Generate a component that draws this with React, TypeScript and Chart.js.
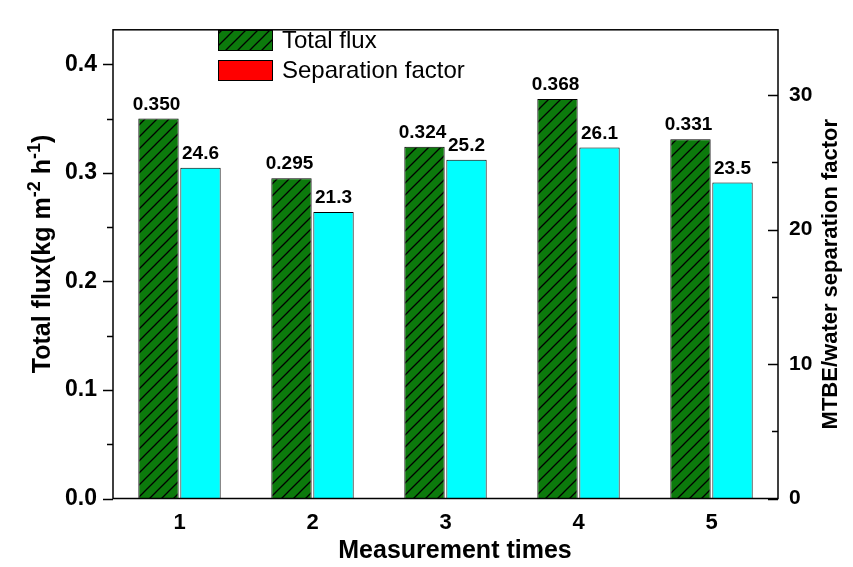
import React, { useEffect, useRef } from "react";
import { Chart, registerables } from "chart.js";
Chart.register(...registerables);

const categories = ["1", "2", "3", "4", "5"];
const totalFlux = [0.35, 0.295, 0.324, 0.368, 0.331];
const separationFactor = [24.6, 21.3, 25.2, 26.1, 23.5];
const fluxLabels = ["0.350", "0.295", "0.324", "0.368", "0.331"];
const sepLabels = ["24.6", "21.3", "25.2", "26.1", "23.5"];
const leftTicks = [0, 0.1, 0.2, 0.3, 0.4];
const leftMinorTicks = [0.05, 0.15, 0.25, 0.35];
const rightTicks = [0, 10, 20, 30];
const rightMinorTicks = [5, 15, 25];
const legendLabels = ["Total flux", "Separation factor"];
const xTitle = "Measurement times";
const rightTitle = "MTBE/water separation factor";

const FONT = "'Liberation Sans', Arial, Helvetica, sans-serif";
const GREEN = "#0c7a0c";
const CYAN = "#00ffff";

function makeHatch(ctx: CanvasRenderingContext2D, bg: string) {
  const s = 12;
  const c = document.createElement("canvas");
  c.width = s;
  c.height = s;
  const g = c.getContext("2d")!;
  g.fillStyle = bg;
  g.fillRect(0, 0, s, s);
  g.strokeStyle = "#000";
  g.lineWidth = 1.3;
  g.beginPath();
  g.moveTo(0, s);
  g.lineTo(s, 0);
  g.moveTo(-s / 2, s / 2);
  g.lineTo(s / 2, -s / 2);
  g.moveTo(s / 2, s * 1.5);
  g.lineTo(s * 1.5, s / 2);
  g.stroke();
  return ctx.createPattern(c, "repeat");
}

export default function App() {
  const ref = useRef<HTMLCanvasElement>(null);
  useEffect(() => {
    document.body.style.margin = "0";
    const canvas = ref.current!;
    const ctx0 = canvas.getContext("2d")!;
    const hatch = makeHatch(ctx0, GREEN);

    const decor = {
      id: "decor",
      afterDraw(chart: any) {
        const ctx = chart.ctx;
        const a = chart.chartArea;
        const yL = chart.scales.y;
        const yR = chart.scales.y1;
        ctx.save();
        // frame
        ctx.strokeStyle = "#000";
        ctx.lineWidth = 1.5;
        ctx.strokeRect(a.left, a.top, a.right - a.left, a.bottom - a.top);
        // left ticks (outward)
        ctx.beginPath();
        leftTicks.forEach((v) => {
          const y = Math.round(yL.getPixelForValue(v)) + 0.5;
          ctx.moveTo(a.left - 10, y);
          ctx.lineTo(a.left, y);
        });
        leftMinorTicks.forEach((v) => {
          const y = Math.round(yL.getPixelForValue(v)) + 0.5;
          ctx.moveTo(a.left - 6, y);
          ctx.lineTo(a.left, y);
        });
        // right ticks (inward)
        rightTicks.forEach((v) => {
          const y = Math.round(yR.getPixelForValue(v)) + 0.5;
          ctx.moveTo(a.right - 10, y);
          ctx.lineTo(a.right, y);
        });
        rightMinorTicks.forEach((v) => {
          const y = Math.round(yR.getPixelForValue(v)) + 0.5;
          ctx.moveTo(a.right - 6, y);
          ctx.lineTo(a.right, y);
        });
        ctx.stroke();

        // data labels
        ctx.fillStyle = "#000";
        ctx.font = `bold 19px ${FONT}`;
        ctx.textAlign = "center";
        ctx.textBaseline = "alphabetic";
        const m0 = chart.getDatasetMeta(0);
        const m1 = chart.getDatasetMeta(1);
        m0.data.forEach((el: any, i: number) => {
          ctx.fillText(fluxLabels[i], el.x - 2, el.y - 9);
        });
        m1.data.forEach((el: any, i: number) => {
          ctx.fillText(sepLabels[i], el.x, el.y - 9);
        });

        // legend
        const lx = 218, lw = 55, lh = 21;
        const ly = [30, 60];
        const fills = [hatch, "#ff0000"];
        ctx.font = `24px ${FONT}`;
        ctx.textAlign = "left";
        ctx.textBaseline = "middle";
        legendLabels.forEach((t, i) => {
          ctx.fillStyle = fills[i] as any;
          ctx.fillRect(lx, ly[i], lw, lh);
          ctx.strokeStyle = "#000";
          ctx.lineWidth = 1;
          ctx.strokeRect(lx + 0.5, ly[i] + 0.5, lw - 1, lh - 1);
          ctx.fillStyle = "#000";
          ctx.fillText(t, 282, ly[i] + lh / 2 + 1);
        });

        // x title
        ctx.font = `bold 25px ${FONT}`;
        ctx.textAlign = "center";
        ctx.textBaseline = "middle";
        ctx.fillText(xTitle, 455, 551);

        // right title
        ctx.save();
        ctx.translate(831, (a.top + a.bottom) / 2 + 10);
        ctx.rotate(-Math.PI / 2);
        ctx.font = `bold 22px ${FONT}`;
        ctx.fillText(rightTitle, 0, 0);
        ctx.restore();

        // left title with superscripts
        const segs: [string, boolean][] = [
          ["Total flux(kg m", false],
          ["-2", true],
          [" h", false],
          ["-1", true],
          [")", false],
        ];
        const big = `bold 25px ${FONT}`;
        const small = `bold 18px ${FONT}`;
        let total = 0;
        segs.forEach(([s, sup]) => {
          ctx.font = sup ? small : big;
          total += ctx.measureText(s).width;
        });
        ctx.save();
        ctx.translate(41, 254);
        ctx.rotate(-Math.PI / 2);
        ctx.textAlign = "left";
        ctx.textBaseline = "alphabetic";
        let x = -total / 2;
        segs.forEach(([s, sup]) => {
          ctx.font = sup ? small : big;
          ctx.fillText(s, x, sup ? -1 : 9);
          x += ctx.measureText(s).width;
        });
        ctx.restore();

        ctx.restore();
      },
    };

    const chart = new Chart(canvas, {
      type: "bar",
      data: {
        labels: categories,
        datasets: [
          {
            label: legendLabels[0],
            data: totalFlux,
            yAxisID: "y",
            backgroundColor: hatch as any,
            borderColor: "#000",
            borderWidth: 1,
            categoryPercentage: 0.632,
            barPercentage: 0.96,
          },
          {
            label: legendLabels[1],
            data: separationFactor,
            yAxisID: "y1",
            backgroundColor: CYAN,
            borderColor: "#000",
            borderWidth: 1,
            categoryPercentage: 0.632,
            barPercentage: 0.96,
          },
        ],
      },
      options: {
        animation: false,
        responsive: false,
        maintainAspectRatio: false,
        layout: { padding: { top: 15, left: 0, right: 0, bottom: 0 } },
        plugins: { legend: { display: false }, tooltip: { enabled: false } },
        scales: {
          x: {
            type: "category",
            offset: true,
            grid: { display: false, drawTicks: false },
            border: { display: false },
            ticks: {
              color: "#000",
              padding: 11,
              font: { family: FONT, size: 22, weight: "bold" },
            },
            afterFit: (s: any) => {
              s.height = 68.5;
            },
          },
          y: {
            position: "left",
            min: 0,
            max: 0.4317,
            grid: { display: false, drawTicks: false },
            border: { display: false },
            ticks: {
              color: "#000",
              padding: 16,
              font: { family: FONT, size: 23, weight: "bold" },
              callback: (v: any) => Number(v).toFixed(1),
            },
            afterBuildTicks: (s: any) => {
              s.ticks = leftTicks.map((v) => ({ value: v }));
            },
            afterFit: (s: any) => {
              s.width = 113;
            },
          },
          y1: {
            position: "right",
            min: 0,
            max: 34.86,
            grid: { display: false, drawTicks: false },
            border: { display: false },
            ticks: {
              color: "#000",
              padding: 11,
              font: { family: FONT, size: 21, weight: "bold" },
              callback: (v: any) => String(v),
            },
            afterBuildTicks: (s: any) => {
              s.ticks = rightTicks.map((v) => ({ value: v }));
            },
            afterFit: (s: any) => {
              s.width = 75;
            },
          },
        },
      } as any,
      plugins: [decor],
    });
    return () => chart.destroy();
  }, []);
  return (
    <div style={{ width: 853, height: 567, background: "#fff" }}>
      <canvas ref={ref} width={853} height={567} style={{ display: "block", width: 853, height: 567 }} />
    </div>
  );
}
